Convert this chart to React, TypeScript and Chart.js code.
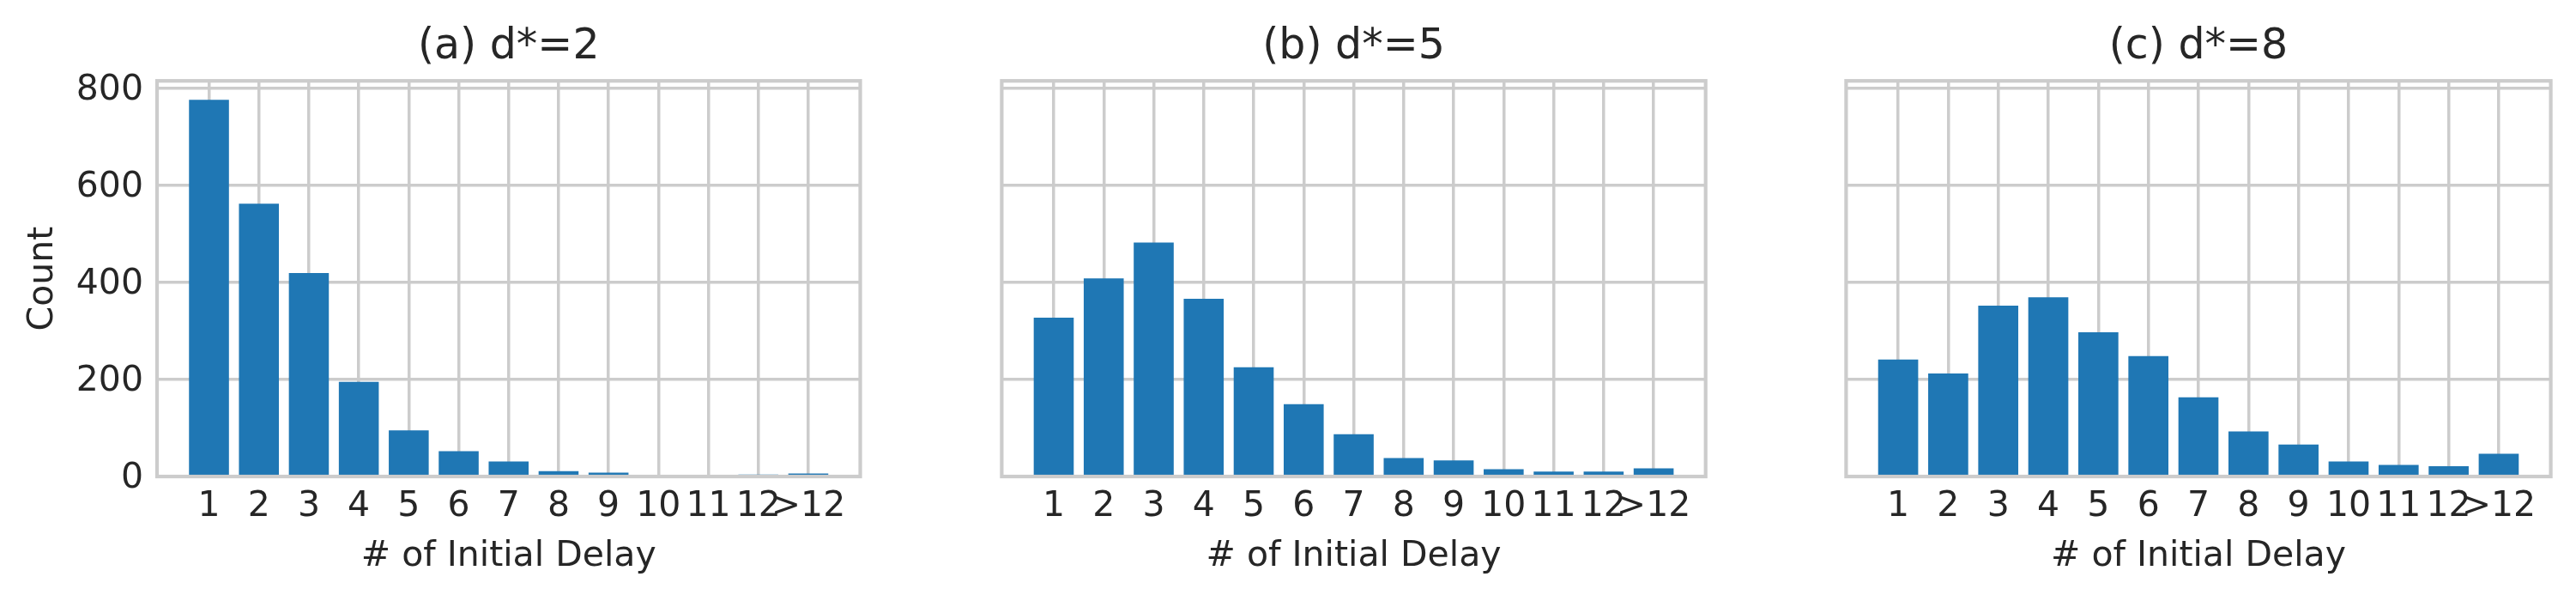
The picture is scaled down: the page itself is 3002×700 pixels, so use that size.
import React, { useEffect, useRef } from 'react';
import { Chart, registerables } from 'chart.js';

Chart.register(...registerables);

// ---- data ----
const categories = ['1', '2', '3', '4', '5', '6', '7', '8', '9', '10', '11', '12', '>12'];
const positions = [1, 2, 3, 4, 5, 6, 7, 8, 9, 10, 11, 12, 13];
const yTickValues = [0, 200, 400, 600, 800];
const countsA = [776, 562, 419, 195, 95, 52, 31, 11, 8, 0, 0, 4, 6];
const countsB = [327, 408, 482, 366, 225, 149, 87, 38, 33, 15, 10, 10, 17];
const countsC = [241, 212, 352, 369, 297, 248, 163, 93, 66, 31, 24, 21, 47];
const panelTitles = ['(a) d*=2', '(b) d*=5', '(c) d*=8'];
const xAxisTitle = '# of Initial Delay';
const yAxisTitle = 'Count';
const xMin = -0.04;
const xMax = 14.04;
const yMax = 814.8;

const FONT = 'DejaVu Sans';
const TEXT = '#262626';
const GRID = '#cccccc';
const BAR = '#1f77b4';

const framePlugin = {
  id: 'frame',
  afterDatasetsDraw(chart: any) {
    const { ctx, chartArea: a } = chart;
    ctx.save();
    ctx.strokeStyle = GRID;
    ctx.lineWidth = 4.2;
    ctx.strokeRect(a.left, a.top, a.right - a.left, a.bottom - a.top);
    ctx.restore();
  },
};

type PanelProps = {
  left: number;
  width: number;
  pl: number;
  pr: number;
  yw: number;
  title: string;
  values: number[];
  showY: boolean;
};

function Panel({ left, width, pl, pr, yw, title, values, showY }: PanelProps) {
  const ref = useRef<HTMLCanvasElement | null>(null);
  useEffect(() => {
    if (!ref.current) return;
    const chart = new Chart(ref.current, {
      type: 'bar',
      data: {
        datasets: [
          {
            data: positions.map((p, i) => ({ x: p, y: values[i] })),
            backgroundColor: BAR,
            borderWidth: 0,
            barPercentage: 0.8,
            categoryPercentage: 1.0,
          },
        ],
      },
      plugins: [framePlugin],
      options: {
        animation: false,
        responsive: false,
        devicePixelRatio: 1,
        layout: { padding: { left: pl, right: pr, top: 0, bottom: 0 } },
        plugins: {
          legend: { display: false },
          tooltip: { enabled: false },
          title: {
            display: true,
            text: title,
            fullSize: false,
            color: TEXT,
            font: { family: FONT, size: 49, weight: 'normal', lineHeight: 1.2 },
            padding: { top: 26, bottom: 9.4 },
          },
        },
        scales: {
          x: {
            type: 'linear',
            min: xMin,
            max: xMax,
            offset: false,
            afterBuildTicks: (s: any) => {
              s.ticks = positions.map((v) => ({ value: v }));
            },
            afterFit: (s: any) => {
              s.height = 145;
            },
            grid: { color: GRID, lineWidth: 3.5, drawTicks: false, offset: false },
            border: { display: false },
            ticks: {
              autoSkip: false,
              maxRotation: 0,
              minRotation: 0,
              padding: 11,
              color: TEXT,
              font: { family: FONT, size: 41 },
              callback: (v: any) => {
                const i = positions.indexOf(Number(v));
                return i >= 0 ? categories[i] : '';
              },
            },
            title: {
              display: true,
              text: xAxisTitle,
              color: TEXT,
              font: { family: FONT, size: 41, lineHeight: 1.2 },
              padding: { top: 0, bottom: 27.5 },
            },
          },
          y: {
            type: 'linear',
            min: 0,
            max: yMax,
            afterBuildTicks: (s: any) => {
              s.ticks = yTickValues.map((v) => ({ value: v }));
            },
            afterFit: (s: any) => {
              s.width = yw;
            },
            grid: { color: GRID, lineWidth: 3.5, drawTicks: false },
            border: { display: false },
            ticks: {
              display: showY,
              padding: 16,
              labelOffset: 2.5,
              color: TEXT,
              font: { family: FONT, size: 41 },
            },
            title: {
              display: showY,
              text: yAxisTitle,
              color: TEXT,
              font: { family: FONT, size: 41, lineHeight: 1.2 },
              padding: { top: 26, bottom: 0 },
            },
          },
        },
      } as any,
    });
    return () => chart.destroy();
  }, []);
  return (
    <canvas
      ref={ref}
      width={width}
      height={700}
      style={{ position: 'absolute', left, top: 0, width, height: 700, display: 'block' }}
    />
  );
}

export default function App() {
  return (
    <div style={{ position: 'absolute', left: 0, top: 0, width: 3002, height: 700, background: '#fff', overflow: 'hidden' }}>
      <Panel left={0} width={1085} pl={0} pr={82.5} yw={183} title={panelTitles[0]} values={countsA} showY={true} />
      <Panel left={1085} width={985} pl={82.4} pr={82.3} yw={0} title={panelTitles[1]} values={countsB} showY={false} />
      <Panel left={2070} width={932} pl={81.4} pr={29.4} yw={0} title={panelTitles[2]} values={countsC} showY={false} />
    </div>
  );
}
